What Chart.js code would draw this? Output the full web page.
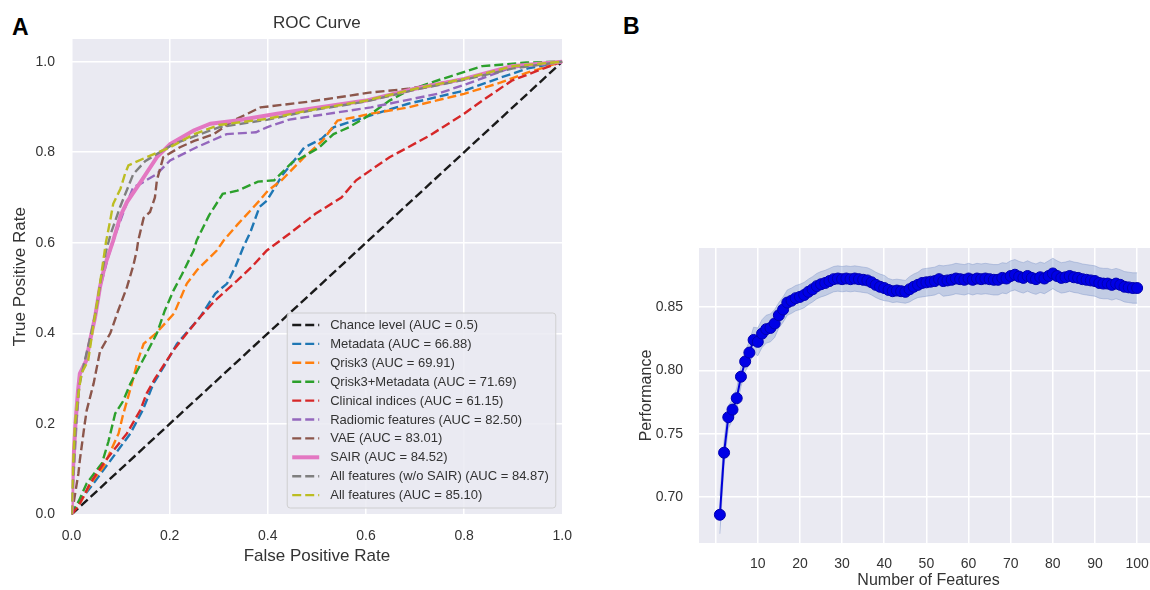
<!DOCTYPE html>
<html>
<head>
<meta charset="utf-8">
<script src="https://cdn.jsdelivr.net/npm/chart.js@4.4.0/dist/chart.umd.min.js"></script>
<style>
  html, body { margin: 0; padding: 0; background: #fff; }
  body { position: relative; width: 1150px; height: 590px; overflow: hidden; font-family: 'Liberation Sans', Arial, sans-serif; }
  canvas { position: absolute; top: 0; }
  #rocChart { left: 0; }
  #perfChart { left: 590px; }
  .panel-letter { position: absolute; font-weight: bold; font-size: 23px; color: #000; }
</style>
</head>
<body>
<div class="panel-letter" style="left:12px; top:14px;">A</div>
<div class="panel-letter" style="left:623px; top:13px;">B</div>
<canvas id="rocChart" width="585" height="590"></canvas>
<canvas id="perfChart" width="580" height="590"></canvas>
<script>
// ---- Panel A: ROC curves ----
const rocLabels = [
  'Chance level (AUC = 0.5)',
  'Metadata (AUC = 66.88)',
  'Qrisk3 (AUC = 69.91)',
  'Qrisk3+Metadata (AUC = 71.69)',
  'Clinical indices (AUC = 61.15)',
  'Radiomic features (AUC = 82.50)',
  'VAE (AUC = 83.01)',
  'SAIR (AUC = 84.52)',
  'All features (w/o SAIR) (AUC = 84.87)',
  'All features (AUC = 85.10)'
];

const chanceFpr = [0, 1];
const chanceTpr = [0, 1];

const metadataFpr = [0, 0.01, 0.045, 0.08, 0.12, 0.145, 0.167, 0.19, 0.215, 0.262, 0.293, 0.317, 0.335, 0.35, 0.365, 0.383, 0.398, 0.43, 0.46, 0.474, 0.51, 0.534, 0.565, 0.62, 0.686, 0.8, 0.875, 0.93, 1];
const metadataTpr = [0, 0.02, 0.069, 0.12, 0.179, 0.23, 0.289, 0.33, 0.377, 0.436, 0.488, 0.51, 0.55, 0.59, 0.625, 0.679, 0.693, 0.75, 0.79, 0.81, 0.83, 0.855, 0.866, 0.885, 0.907, 0.936, 0.965, 0.985, 1];

const qriskFpr = [0, 0.02, 0.04, 0.065, 0.096, 0.104, 0.123, 0.135, 0.147, 0.172, 0.209, 0.235, 0.256, 0.296, 0.31, 0.338, 0.383, 0.4, 0.428, 0.474, 0.512, 0.542, 0.58, 0.61, 0.686, 0.8, 0.875, 0.927, 1];
const qriskTpr = [0, 0.03, 0.07, 0.105, 0.179, 0.216, 0.289, 0.34, 0.377, 0.4, 0.444, 0.51, 0.54, 0.583, 0.605, 0.64, 0.693, 0.715, 0.738, 0.789, 0.826, 0.87, 0.878, 0.885, 0.899, 0.929, 0.954, 0.975, 1];

const comboFpr = [0, 0.015, 0.031, 0.062, 0.075, 0.089, 0.105, 0.12, 0.15, 0.174, 0.19, 0.208, 0.225, 0.249, 0.255, 0.28, 0.308, 0.338, 0.38, 0.413, 0.45, 0.466, 0.504, 0.534, 0.565, 0.6, 0.648, 0.686, 0.75, 0.837, 0.927, 1];
const comboTpr = [0, 0.03, 0.069, 0.113, 0.16, 0.223, 0.25, 0.289, 0.35, 0.4, 0.45, 0.495, 0.53, 0.583, 0.605, 0.66, 0.708, 0.715, 0.735, 0.738, 0.778, 0.786, 0.81, 0.84, 0.855, 0.877, 0.914, 0.936, 0.96, 0.99, 0.998, 1];

const clinicalFpr = [0, 0.015, 0.038, 0.07, 0.113, 0.14, 0.153, 0.17, 0.208, 0.235, 0.262, 0.293, 0.338, 0.37, 0.398, 0.444, 0.497, 0.55, 0.58, 0.648, 0.686, 0.73, 0.8, 0.837, 0.897, 0.95, 1];
const clinicalTpr = [0, 0.02, 0.069, 0.12, 0.179, 0.23, 0.267, 0.3, 0.363, 0.4, 0.436, 0.473, 0.517, 0.55, 0.583, 0.62, 0.664, 0.7, 0.738, 0.789, 0.811, 0.837, 0.885, 0.914, 0.958, 0.98, 1];

const radiomicFpr = [0, 0.005, 0.01, 0.017, 0.03, 0.045, 0.058, 0.075, 0.09, 0.11, 0.126, 0.14, 0.174, 0.201, 0.255, 0.316, 0.376, 0.398, 0.444, 0.487, 0.61, 0.746, 0.806, 0.897, 1];
const radiomicTpr = [0, 0.1, 0.2, 0.3, 0.35, 0.42, 0.5, 0.57, 0.62, 0.68, 0.723, 0.73, 0.752, 0.782, 0.811, 0.84, 0.844, 0.855, 0.872, 0.879, 0.899, 0.929, 0.951, 0.987, 1];

const vaeFpr = [0, 0.005, 0.014, 0.017, 0.027, 0.031, 0.045, 0.058, 0.079, 0.095, 0.113, 0.126, 0.133, 0.136, 0.147, 0.16, 0.17, 0.174, 0.187, 0.221, 0.25, 0.29, 0.33, 0.385, 0.487, 0.61, 0.686, 0.8, 0.9, 1];
const vaeTpr = [0, 0.03, 0.09, 0.12, 0.201, 0.23, 0.289, 0.36, 0.4, 0.45, 0.502, 0.55, 0.583, 0.605, 0.655, 0.668, 0.7, 0.738, 0.789, 0.811, 0.825, 0.84, 0.87, 0.899, 0.912, 0.932, 0.94, 0.962, 0.99, 1];

const sairFpr = [0, 0.003, 0.008, 0.013, 0.017, 0.03, 0.038, 0.048, 0.058, 0.068, 0.085, 0.1, 0.113, 0.143, 0.174, 0.201, 0.249, 0.283, 0.337, 0.419, 0.487, 0.6, 0.7, 0.8, 0.897, 1];
const sairTpr = [0, 0.1, 0.2, 0.27, 0.311, 0.34, 0.385, 0.436, 0.502, 0.55, 0.605, 0.66, 0.69, 0.738, 0.789, 0.818, 0.848, 0.863, 0.87, 0.885, 0.896, 0.914, 0.94, 0.962, 0.99, 1];

const allNoSairFpr = [0, 0.004, 0.009, 0.015, 0.025, 0.04, 0.05, 0.06, 0.07, 0.08, 0.099, 0.126, 0.15, 0.174, 0.208, 0.25, 0.3, 0.4, 0.487, 0.6, 0.7, 0.8, 0.9, 1];
const allNoSairTpr = [0, 0.1, 0.2, 0.28, 0.33, 0.4, 0.45, 0.52, 0.58, 0.62, 0.679, 0.752, 0.78, 0.796, 0.818, 0.835, 0.855, 0.872, 0.892, 0.912, 0.938, 0.96, 0.985, 1];

const allFpr = [0, 0.003, 0.007, 0.012, 0.02, 0.034, 0.045, 0.055, 0.07, 0.079, 0.085, 0.1, 0.109, 0.116, 0.153, 0.201, 0.25, 0.3, 0.4, 0.487, 0.6, 0.7, 0.8, 0.9, 1];
const allTpr = [0, 0.1, 0.2, 0.25, 0.311, 0.34, 0.42, 0.487, 0.6, 0.65, 0.686, 0.72, 0.752, 0.771, 0.789, 0.811, 0.84, 0.86, 0.874, 0.893, 0.914, 0.94, 0.962, 0.99, 1];

const rocTicks = [0, 0.2, 0.4, 0.6, 0.8, 1.0];
const rocTickLabels = ['0.0', '0.2', '0.4', '0.6', '0.8', '1.0'];

// ---- Panel B: performance vs number of features ----
const featureCounts = [1, 2, 3, 4, 5, 6, 7, 8, 9, 10, 11, 12, 13, 14, 15, 16, 17, 18, 19, 20,
  21, 22, 23, 24, 25, 26, 27, 28, 29, 30, 31, 32, 33, 34, 35, 36, 37, 38, 39, 40,
  41, 42, 43, 44, 45, 46, 47, 48, 49, 50, 51, 52, 53, 54, 55, 56, 57, 58, 59, 60,
  61, 62, 63, 64, 65, 66, 67, 68, 69, 70, 71, 72, 73, 74, 75, 76, 77, 78, 79, 80,
  81, 82, 83, 84, 85, 86, 87, 88, 89, 90, 91, 92, 93, 94, 95, 96, 97, 98, 99, 100];
const performance = [0.686, 0.735, 0.763, 0.769, 0.778, 0.795, 0.807, 0.814, 0.824, 0.8225,
  0.829, 0.8325, 0.8335, 0.837, 0.8435, 0.848, 0.8535, 0.855, 0.857, 0.858,
  0.8595, 0.862, 0.864, 0.8665, 0.868, 0.869, 0.8705, 0.872, 0.8725, 0.872,
  0.8725, 0.872, 0.8725, 0.872, 0.8715, 0.871, 0.8695, 0.8675, 0.866, 0.865,
  0.8635, 0.8625, 0.863, 0.8625, 0.862, 0.864, 0.866, 0.8675, 0.869, 0.8695,
  0.87, 0.8705, 0.872, 0.8705, 0.871, 0.8715, 0.8725, 0.872, 0.8715, 0.8725,
  0.8715, 0.8725, 0.872, 0.8725, 0.872, 0.8715, 0.8715, 0.873, 0.8725, 0.8745,
  0.8755, 0.874, 0.873, 0.8745, 0.873, 0.872, 0.8735, 0.8725, 0.8745, 0.8765,
  0.8745, 0.873, 0.8735, 0.8745, 0.8735, 0.873, 0.872, 0.8715, 0.871, 0.8705,
  0.869, 0.8685, 0.8685, 0.8675, 0.8685, 0.8675, 0.866, 0.8655, 0.865, 0.865];
const performanceStd = [0.015, 0.01, 0.009, 0.008, 0.008, 0.008, 0.008, 0.009, 0.01, 0.011,
  0.011, 0.011, 0.011, 0.011, 0.01, 0.01, 0.01, 0.01, 0.01, 0.01,
  0.01, 0.01, 0.01, 0.01, 0.01, 0.01, 0.01, 0.01, 0.01, 0.01,
  0.01, 0.01, 0.01, 0.01, 0.01, 0.01, 0.01, 0.01, 0.01, 0.01,
  0.009, 0.009, 0.009, 0.009, 0.009, 0.01, 0.01, 0.01, 0.011, 0.011,
  0.011, 0.011, 0.011, 0.012, 0.012, 0.012, 0.012, 0.012, 0.012, 0.012,
  0.012, 0.012, 0.012, 0.012, 0.012, 0.012, 0.012, 0.012, 0.012, 0.012,
  0.012, 0.012, 0.012, 0.012, 0.012, 0.012, 0.012, 0.012, 0.012, 0.012,
  0.012, 0.012, 0.012, 0.012, 0.012, 0.012, 0.012, 0.012, 0.012, 0.012,
  0.012, 0.012, 0.012, 0.012, 0.012, 0.012, 0.012, 0.012, 0.012, 0.012];
const perfXTicks = [0, 10, 20, 30, 40, 50, 60, 70, 80, 90, 100];
const perfXTickLabels = ['', '10', '20', '30', '40', '50', '60', '70', '80', '90', '100'];
const perfYTicks = [0.70, 0.75, 0.80, 0.85];
const perfYTickLabels = ['0.70', '0.75', '0.80', '0.85'];

// ---- styles ----
const FONT = "'Liberation Sans', Arial, sans-serif";
const TEXT_COLOR = '#333';
const rocColors = ['#1a1a1a', '#1f77b4', '#ff7f0e', '#2ca02c', '#d62728', '#9467bd', '#8c564b', '#e377c2', '#7f7f7f', '#bcbd22'];
const DASH = [9, 4];

// Plot background (seaborn darkgrid)
const plotBackground = {
  id: 'plotBackground',
  beforeDraw(chart) {
    const { ctx, chartArea: a } = chart;
    ctx.save();
    ctx.fillStyle = '#eaeaf2';
    ctx.fillRect(a.left, a.top, a.width, a.height);
    ctx.restore();
  }
};

// Title centred over the plot area
const plotTitle = {
  id: 'plotTitle',
  afterDraw(chart, args, opts) {
    if (!opts.text) return;
    const { ctx, chartArea: a } = chart;
    ctx.save();
    ctx.font = `17px ${FONT}`;
    ctx.fillStyle = TEXT_COLOR;
    ctx.textAlign = 'center';
    ctx.textBaseline = 'middle';
    ctx.fillText(opts.text, (a.left + a.right) / 2, opts.y);
    ctx.restore();
  }
};

// Legend box inside the lower right of the plot
const insideLegend = {
  id: 'insideLegend',
  afterDatasetsDraw(chart, args, opts) {
    if (!opts.display) return;
    const { ctx, chartArea: a } = chart;
    const sets = chart.data.datasets;
    ctx.save();
    ctx.font = `13px ${FONT}`;
    const textW = Math.max(...sets.map(d => ctx.measureText(d.label).width));
    const rowH = 18.9;
    const w = 43 + textW + 7;
    const h = rowH * sets.length + 6;
    const right = a.right - 6.5;
    const bottom = a.bottom - 6.5;
    const left = right - w;
    const top = bottom - h;

    ctx.beginPath();
    ctx.roundRect(left, top, w, h, 3);
    ctx.fillStyle = 'rgba(234,234,242,0.85)';
    ctx.fill();
    ctx.strokeStyle = 'rgba(204,204,204,0.9)';
    ctx.lineWidth = 1;
    ctx.stroke();

    sets.forEach((d, i) => {
      const cy = top + 12 + i * rowH;
      ctx.beginPath();
      ctx.setLineDash(d.borderDash || []);
      ctx.strokeStyle = d.borderColor;
      ctx.lineWidth = d.borderWidth;
      ctx.moveTo(left + 5, cy);
      ctx.lineTo(left + 32, cy);
      ctx.stroke();
      ctx.setLineDash([]);
      ctx.fillStyle = TEXT_COLOR;
      ctx.textBaseline = 'middle';
      ctx.textAlign = 'left';
      ctx.fillText(d.label, left + 43, cy + 0.5);
    });
    ctx.restore();
  }
};

function toPoints(xs, ys) {
  return xs.map((x, i) => ({ x: x, y: ys[i] }));
}

function fixedTicks(values) {
  return function (scale) {
    scale.ticks = values.map(v => ({ value: v }));
  };
}

// ---- build panel A ----
const rocSeries = [
  [chanceFpr, chanceTpr],
  [metadataFpr, metadataTpr],
  [qriskFpr, qriskTpr],
  [comboFpr, comboTpr],
  [clinicalFpr, clinicalTpr],
  [radiomicFpr, radiomicTpr],
  [vaeFpr, vaeTpr],
  [sairFpr, sairTpr],
  [allNoSairFpr, allNoSairTpr],
  [allFpr, allTpr]
];

const rocDatasets = rocSeries.map((s, i) => {
  const solid = i === 7; // SAIR is the only solid line
  return {
    label: rocLabels[i],
    data: toPoints(s[0], s[1]),
    borderColor: rocColors[i],
    borderWidth: solid ? 4 : 2.4,
    borderDash: solid ? [] : DASH,
    pointRadius: 0,
    tension: 0,
    fill: false,
    order: rocSeries.length - i // later series on top, like matplotlib
  };
});

new Chart(document.getElementById('rocChart'), {
  type: 'line',
  data: { datasets: rocDatasets },
  options: {
    responsive: false,
    animation: false,
    layout: { padding: { top: 39, right: 13.5, left: 0, bottom: 0 } },
    plugins: {
      legend: { display: false },
      tooltip: { enabled: false },
      plotTitle: { text: 'ROC Curve', y: 23 },
      insideLegend: { display: true }
    },
    scales: {
      x: {
        type: 'linear',
        min: 0,
        max: 1,
        afterBuildTicks: fixedTicks(rocTicks),
        afterFit: (scale) => { scale.height = 75.5; },
        grid: { color: '#ffffff', lineWidth: 1.5, drawTicks: false },
        border: { display: false },
        ticks: {
          padding: 13,
          color: TEXT_COLOR,
          font: { family: FONT, size: 14 },
          callback: (v, i) => rocTickLabels[i]
        },
        title: {
          display: true,
          text: 'False Positive Rate',
          color: TEXT_COLOR,
          font: { family: FONT, size: 17 },
          padding: { top: 0, bottom: 23 }
        }
      },
      y: {
        type: 'linear',
        min: 0,
        max: 1.05,
        afterBuildTicks: fixedTicks(rocTicks),
        afterFit: (scale) => { scale.width = 71.5; },
        grid: { color: '#ffffff', lineWidth: 1.5, drawTicks: false },
        border: { display: false },
        ticks: {
          padding: 16.5,
          color: TEXT_COLOR,
          font: { family: FONT, size: 14 },
          callback: (v, i) => rocTickLabels[i]
        },
        title: {
          display: true,
          text: 'True Positive Rate',
          color: TEXT_COLOR,
          font: { family: FONT, size: 17 },
          padding: { top: 10, bottom: 0 }
        }
      }
    }
  },
  plugins: [plotBackground, plotTitle, insideLegend]
});

// ---- build panel B ----
const perfUpper = performance.map((v, i) => v + performanceStd[i]);
const perfLower = performance.map((v, i) => v - performanceStd[i]);

new Chart(document.getElementById('perfChart'), {
  type: 'line',
  data: {
    datasets: [
      {
        label: 'Performance',
        data: toPoints(featureCounts, performance),
        borderColor: '#0000d8',
        borderWidth: 2,
        pointRadius: 5.5,
        pointBackgroundColor: '#0000e6',
        pointBorderColor: '#0000b0',
        pointBorderWidth: 1,
        tension: 0,
        fill: false,
        order: 0
      },
      {
        label: 'upper',
        data: toPoints(featureCounts, perfUpper),
        borderColor: 'rgba(140,160,205,0.5)',
        borderWidth: 1,
        pointRadius: 0,
        tension: 0,
        fill: '+1',
        backgroundColor: 'rgba(110,140,200,0.32)',
        order: 1
      },
      {
        label: 'lower',
        data: toPoints(featureCounts, perfLower),
        borderColor: 'rgba(140,160,205,0.5)',
        borderWidth: 1,
        pointRadius: 0,
        tension: 0,
        fill: false,
        order: 1
      }
    ]
  },
  options: {
    responsive: false,
    animation: false,
    layout: { padding: { top: 248, right: 12, left: 0, bottom: 0 } },
    plugins: {
      legend: { display: false },
      tooltip: { enabled: false }
    },
    scales: {
      x: {
        type: 'linear',
        min: -3.95,
        max: 104.95,
        afterBuildTicks: fixedTicks(perfXTicks),
        afterFit: (scale) => { scale.height = 47; },
        grid: { color: '#ffffff', lineWidth: 1.5, drawTicks: false },
        border: { display: false },
        ticks: {
          padding: 12.5,
          color: TEXT_COLOR,
          font: { family: FONT, size: 14 },
          callback: (v, i) => perfXTickLabels[i]
        },
        title: {
          display: true,
          text: 'Number of Features',
          color: TEXT_COLOR,
          font: { family: FONT, size: 16 },
          padding: { top: 0, bottom: 0 }
        }
      },
      y: {
        type: 'linear',
        min: 0.6637,
        max: 0.8966,
        afterBuildTicks: fixedTicks(perfYTicks),
        afterFit: (scale) => { scale.width = 109; },
        grid: { color: '#ffffff', lineWidth: 1.5, drawTicks: false },
        border: { display: false },
        ticks: {
          padding: 16,
          color: TEXT_COLOR,
          font: { family: FONT, size: 14 },
          callback: (v, i) => perfYTickLabels[i]
        },
        title: {
          display: true,
          text: 'Performance',
          color: TEXT_COLOR,
          font: { family: FONT, size: 16 },
          padding: { top: 47, bottom: 0 }
        }
      }
    }
  },
  plugins: [plotBackground]
});
</script>
</body>
</html>
